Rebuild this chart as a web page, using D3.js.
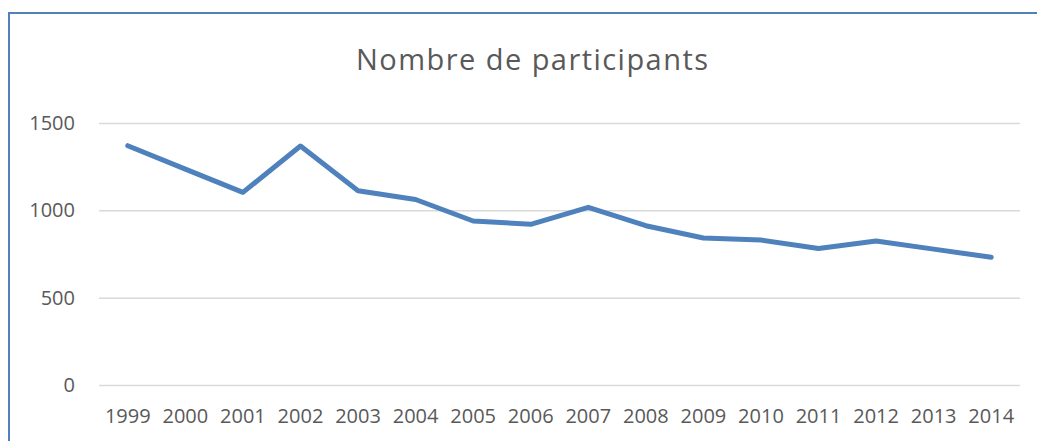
<!DOCTYPE html>
<html lang="fr">
<head>
<meta charset="utf-8">
<title>Nombre de participants</title>
<script src="https://cdnjs.cloudflare.com/ajax/libs/d3/7.8.5/d3.min.js"></script>
<style>
  body { margin: 0; background: #fff; }
  text { font-family: "Open Sans", Lato, sans-serif; fill: #595959; }
</style>
</head>
<body>
<div id="plot"></div>
<script>
// data
var years = ["1999","2000","2001","2002","2003","2004","2005","2006","2007","2008","2009","2010","2011","2012","2013","2014"];
var participants = [1370, 1236, 1103, 1368, 1112, 1062, 939, 920, 1017, 912, 842, 830, 782, 824, 778, 731];
var yTicks = [0, 500, 1000, 1500];

var width = 1037, height = 441;
var plotLeft = 99, plotRight = 1020, plotTop = 123, plotBottom = 385;

var svg = d3.select("#plot").append("svg")
    .attr("width", width)
    .attr("height", height);

// chart frame
svg.append("rect")
    .attr("x", 9).attr("y", 13)
    .attr("width", width + 10).attr("height", height + 10)
    .attr("fill", "#fff")
    .attr("stroke", "#4f81bd")
    .attr("stroke-width", 2);

var x = d3.scaleBand().domain(years).range([plotLeft, plotRight]);
var y = d3.scaleLinear().domain([0, 1500]).range([plotBottom, plotTop]);

// gridlines + y labels
var yAxis = d3.axisLeft(y).tickValues(yTicks).tickFormat(d3.format("d"))
    .tickSize(-(plotRight - plotLeft)).tickPadding(24);
var gy = svg.append("g")
    .attr("transform", "translate(" + plotLeft + ",0)")
    .call(yAxis);
gy.select(".domain").remove();
gy.selectAll(".tick line").attr("stroke", "#d9d9d9").attr("stroke-width", 1.5);
gy.selectAll(".tick text").style("font-size", "20px").attr("fill", "#595959");

// x labels
var xAxis = d3.axisBottom(x).tickSize(0).tickPadding(24);
var gx = svg.append("g")
    .attr("transform", "translate(0," + plotBottom + ")")
    .call(xAxis);
gx.select(".domain").remove();
gx.selectAll(".tick text").style("font-size", "20px").attr("fill", "#595959");

// line
var line = d3.line()
    .x(function(d, i) { return x(years[i]) + x.bandwidth() / 2; })
    .y(function(d) { return y(d); });

svg.append("path")
    .datum(participants)
    .attr("d", line)
    .attr("fill", "none")
    .attr("stroke", "#4f81bd")
    .attr("stroke-width", 5)
    .attr("stroke-linejoin", "round")
    .attr("stroke-linecap", "round");

// title
svg.append("text")
    .attr("x", 532)
    .attr("y", 70)
    .attr("text-anchor", "middle")
    .attr("textLength", 352)
    .attr("lengthAdjust", "spacing")
    .style("font-size", "29px")
    .text("Nombre de participants");
</script>
</body>
</html>
